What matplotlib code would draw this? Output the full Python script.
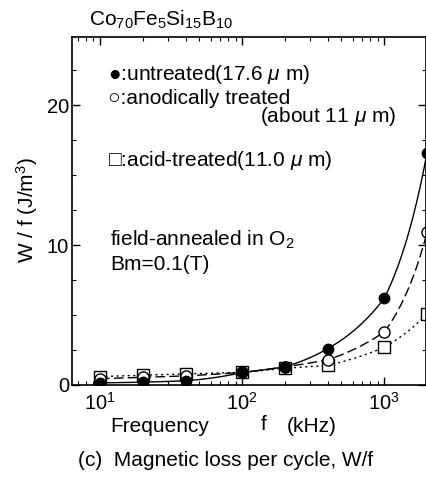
import matplotlib
matplotlib.use("Agg")
import matplotlib.pyplot as plt
import numpy as np

plt.rcParams['font.family'] = ['Liberation Sans', 'DejaVu Sans']
plt.rcParams['mathtext.fontset'] = 'custom'
plt.rcParams['mathtext.rm'] = 'Liberation Sans'
plt.rcParams['mathtext.it'] = 'Liberation Sans:italic'

# frequency (kHz)
freq = [10, 20, 40, 100, 200, 400, 1000, 2000]
# W/f (J/m^3)
untreated = [0.15, 0.2, 0.3, 0.9, 1.3, 2.6, 6.2, 16.6]
anodic = [0.45, 0.55, 0.65, 0.9, 1.3, 1.8, 3.8, 10.9]
acid = [0.6, 0.7, 0.8, 0.9, 1.2, 1.4, 2.7, 5.1]


def smooth(xs, ys, n=200):
    # draw the joining curve: log-linear between the measured points
    lx = np.log10(xs)
    gx = np.linspace(lx[0], lx[-1], n)
    gy = np.interp(gx, lx, np.log(ys))
    return 10 ** gx, np.exp(gy)


fig = plt.figure(figsize=(4.26, 4.78), dpi=100)
ax = fig.add_axes([72 / 426, 93 / 478, 353.5 / 426, 348 / 478])

sx, sy = smooth(freq, untreated)
ax.plot(sx, sy, color="black", lw=1.0, ls="-")
sx, sy = smooth(freq, anodic)
ax.plot(sx, sy, color="black", lw=1.0, ls=(0, (7, 3)))
sx, sy = smooth(freq, acid)
ax.plot(sx, sy, color="black", lw=1.0, ls=(0, (1.5, 2.5)))

ax.plot(freq, acid, "s", ms=8, mfc="white", mec="black", mew=1.0, ls="none")
ax.plot(freq, anodic, "o", ms=8, mfc="white", mec="black", mew=1.0, ls="none")
ax.plot(freq, untreated, "o", ms=7.5, mfc="black", mec="black", ls="none")

ax.set_xscale("log")
ax.set_xlim(6.36, 1950)
ax.set_ylim(0, 24.86)
ax.set_yticks([0, 10, 20])
ax.set_yticks(np.arange(0, 25, 2.5), minor=True)
ax.tick_params(which="both", direction="in", top=True, right=True, labelsize=14.5)
ax.tick_params(which="major", length=6, width=1)
ax.tick_params(which="minor", length=3, width=0.8)
ax.tick_params(axis="x", pad=5)
ax.tick_params(axis="y", pad=2)
for s in ax.spines.values():
    s.set_linewidth(1.2)

tkw = dict(transform=fig.transFigure, fontsize=15, color="black")
fig.text(89 / 426, 1 - 20 / 478, r"Co$_{70}$Fe$_5$Si$_{15}$B$_{10}$", va="center", **tkw)
fig.text(108 / 426, 1 - 75 / 478, "\u25cf:untreated(17.6 $\\mu$ m)", va="center", **tkw)
fig.text(108 / 426, 1 - 99 / 478, "\u25cb:anodically treated", va="center", **tkw)
fig.text(396 / 426, 1 - 117 / 478, "(about 11 $\\mu$ m)", va="center", ha="right", **tkw)
fig.text(108 / 426, 1 - 160 / 478, "\u25a1:acid-treated(11.0 $\\mu$ m)", va="center", **tkw)
fig.text(110 / 426, 1 - 240 / 478, r"field-annealed in O$_2$", va="center", **tkw)
fig.text(110 / 426, 1 - 265 / 478, "Bm=0.1(T)", va="center", **tkw)
fig.text(27 / 426, 1 - 210 / 478, r"W / f (J/m$^3$)", rotation=90, va="center", ha="center", **tkw)
fig.text(110 / 426, 1 - 427 / 478, "Frequency", va="center", **tkw)
fig.text(261 / 426, 1 - 424 / 478, "f", va="center", **tkw)
fig.text(287 / 426, 1 - 427 / 478, "(kHz)", va="center", **tkw)
fig.text(78 / 426, 1 - 461 / 478, "(c)  Magnetic loss per cycle, W/f", va="center", **tkw)

fig.savefig("out.png", dpi=100)
